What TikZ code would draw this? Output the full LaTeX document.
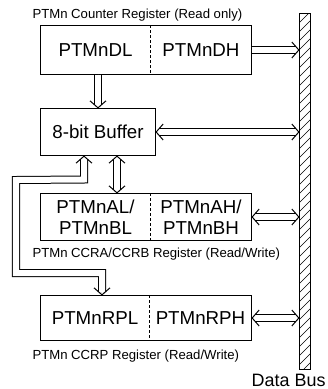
\documentclass[tikz,border=0pt]{standalone}
\usepackage{fontspec}
\setmainfont{Liberation Sans}
\usetikzlibrary{arrows.meta, positioning}

\begin{document}
\begin{tikzpicture}[
		x=1bp, y=-1bp, line width=1bp,
		regpart/.style={rectangle, inner sep=0pt, outer sep=0pt, anchor=north west, align=center, font=\fontsize{18.8}{21.5}\selectfont},
		caption/.style={anchor=base west, inner sep=0pt, font=\fontsize{13.2}{15}\selectfont},
		hollow/.style={draw=white, line width=6bp, line join=miter, preaction={draw=black, line width=8bp, line join=miter}},
		arrow/.style={hollow, shorten >=3.5bp},
		biarrow/.style={hollow, shorten <=3.5bp, shorten >=3.5bp},
		tipline/.style={white, line width=1bp, -{Straight Barb[color=black, length=7bp, width=16bp]}},
		bitipline/.style={white, line width=1bp, {Straight Barb[color=black, length=7bp, width=16bp]}-{Straight Barb[color=black, length=7bp, width=16bp]}}
		]
		\useasboundingbox (0,0) rectangle (328,389);

		% data bus
		\node[draw, inner sep=0pt, outer sep=0pt, minimum width=11bp, minimum height=356bp, anchor=north west] (dbus) at (299.5,13.5) {};
		\begin{scope}
			\clip (dbus.north west) rectangle (dbus.south east);
			\foreach \y in {8,17,...,390} \draw[line width=0.6bp] (299,\y+6) -- (311,\y-6);
		\end{scope}
		\draw (dbus.north west) rectangle (dbus.south east);
		\node[anchor=base east, inner sep=0pt, font=\fontsize{18}{21}\selectfont] (buslbl) at (326,386) {Data Bus};

		% counter register
		\node[caption] (cntcap) at (32,18) {PTMn Counter Register (Read only)};
		\node[regpart, minimum width=110bp, minimum height=49bp] (dl) at (40.5,25.5) {PTMnDL};
		\node[regpart, minimum width=101bp, minimum height=49bp] (dh) at (dl.north east) {PTMnDH};
		\draw (dl.north west) rectangle (dh.south east);
		\draw[densely dashed] (dl.north east) -- (dl.south east);

		% buffer
		\node[regpart, draw, minimum width=115bp, minimum height=47bp] (buf) at (40.5,108.5) {8-bit Buffer};

		% CCRA/CCRB register
		\node[regpart, minimum width=110bp, minimum height=47bp] (al) at (40.5,193.5) {PTMnAL/\\PTMnBL};
		\node[regpart, minimum width=101bp, minimum height=47bp] (ah) at (al.north east) {PTMnAH/\\PTMnBH};
		\draw (al.north west) rectangle (ah.south east);
		\draw[densely dashed] (al.north east) -- (al.south east);
		\node[caption] (acap) at (32,257) {PTMn CCRA/CCRB Register (Read/Write)};

		% CCRP register
		\node[regpart, minimum width=109bp, minimum height=45bp] (rl) at (40.5,295.5) {PTMnRPL};
		\node[regpart, minimum width=102bp, minimum height=45bp] (rh) at (rl.north east) {PTMnRPH};
		\draw (rl.north west) rectangle (rh.south east);
		\draw[densely dashed] (rl.north east) -- (rl.south east);
		\node[caption] (rcap) at (32,359) {PTMn CCRP Register (Read/Write)};

		% connections
		\draw[arrow] (dh.east) -- (dh.east -| dbus.west);
		\draw[tipline] (dh.east) -- (dh.east -| dbus.west);
		\draw[arrow] (buf.north |- dl.south) -- (buf.north);
		\draw[tipline] (buf.north |- dl.south) -- (buf.north);
		\draw[biarrow] (buf.east) -- (buf.east -| dbus.west);
		\draw[bitipline] (buf.east) -- (buf.east -| dbus.west);
		\draw[biarrow] (ah.east) -- (ah.east -| dbus.west);
		\draw[bitipline] (ah.east) -- (ah.east -| dbus.west);
		\draw[biarrow] (rh.east) -- (rh.east -| dbus.west);
		\draw[bitipline] (rh.east) -- (rh.east -| dbus.west);
		\draw[biarrow] ([xshift=19bp]buf.south) -- ([xshift=19bp]buf.south |- al.north);
		\draw[bitipline] ([xshift=19bp]buf.south) -- ([xshift=19bp]buf.south |- al.north);
		\draw[biarrow] ([xshift=-14bp]buf.south) -- ++(0,24) -- (16,180) -- (16,273) -- ([xshift=7bp]rl.north |- 0,273) -- ([xshift=7bp]rl.north);
		\draw[tipline] ([xshift=-14bp]buf.south) ++(0,12) -- ++(0,-12);
		\draw[tipline] ([xshift=7bp]rl.north) ++(0,-12) -- ++(0,12);
	\end{tikzpicture}
\end{document}
